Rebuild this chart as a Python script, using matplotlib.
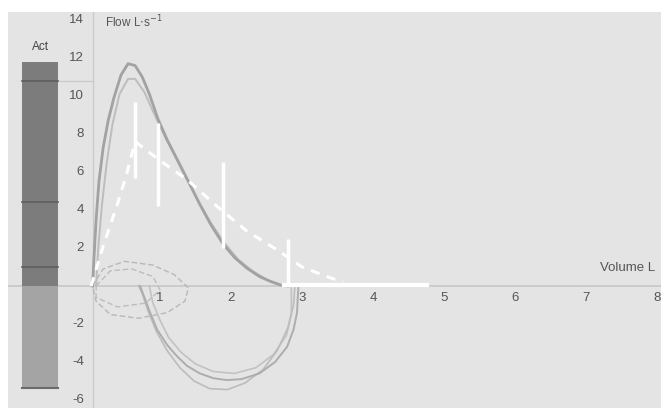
import matplotlib.pyplot as plt

plt.rcParams['font.family'] = ['Liberation Sans Narrow', 'Liberation Sans', 'DejaVu Sans']

# Curva espiratoria principal (volumen L, flujo L/s)
exp1_vol = [0.05, 0.07, 0.10, 0.14, 0.20, 0.27, 0.35, 0.45, 0.55, 0.65, 0.75, 0.85, 0.97, 1.10,
            1.25, 1.40, 1.56, 1.72, 1.89, 2.05, 2.22, 2.40, 2.55, 2.70, 2.80]
exp1_flow = [0.0, 1.5, 3.5, 5.5, 7.3, 8.7, 9.9, 11.1, 11.7, 11.6, 11.0, 10.1, 8.8, 7.7,
             6.6, 5.5, 4.3, 3.2, 2.2, 1.5, 0.95, 0.5, 0.25, 0.05, 0.0]
# Segunda maniobra espiratoria
exp2_vol = [0.10, 0.13, 0.18, 0.25, 0.33, 0.43, 0.55, 0.65, 0.78, 0.90, 1.05, 1.20, 1.38, 1.55,
            1.72, 1.90, 2.10, 2.30, 2.50, 2.70, 2.80]
exp2_flow = [0.0, 2.0, 4.2, 6.5, 8.5, 10.1, 10.9, 10.9, 10.2, 9.2, 8.0, 6.9, 5.6, 4.4,
             3.3, 2.3, 1.4, 0.8, 0.35, 0.05, 0.0]

# Curvas inspiratorias
insp1_vol = [2.95, 2.94, 2.93, 2.88, 2.79, 2.62, 2.40, 2.15, 1.94, 1.75, 1.56, 1.38, 1.24, 1.10,
             0.96, 0.86, 0.78, 0.72]
insp1_flow = [0.0, -0.6, -1.4, -2.3, -3.2, -4.0, -4.6, -4.9, -4.95, -4.85, -4.6, -4.2, -3.7, -3.1,
              -2.3, -1.4, -0.6, 0.0]
insp2_vol = [2.90, 2.88, 2.80, 2.65, 2.45, 2.20, 1.95, 1.70, 1.48, 1.28, 1.10, 0.95, 0.83, 0.75, 0.70]
insp2_flow = [0.0, -1.0, -2.2, -3.4, -4.4, -5.1, -5.45, -5.4, -5.0, -4.3, -3.4, -2.4, -1.3, -0.4, 0.0]
insp3_vol = [2.85, 2.85, 2.78, 2.60, 2.35, 2.05, 1.75, 1.50, 1.30, 1.12, 1.00, 0.90, 0.85]
insp3_flow = [0.0, -1.5, -2.6, -3.6, -4.3, -4.6, -4.5, -4.1, -3.5, -2.7, -1.8, -0.9, 0.0]

# Ciclos de volumen corriente
tid1_vol = [0.05, 0.20, 0.50, 0.90, 1.20, 1.40, 1.35, 1.10, 0.70, 0.30, 0.10, 0.05]
tid1_flow = [0.0, 0.9, 1.3, 1.1, 0.6, -0.1, -0.8, -1.4, -1.7, -1.5, -0.8, 0.0]
tid2_vol = [0.10, 0.30, 0.60, 0.90, 1.00, 0.80, 0.40, 0.10, 0.10]
tid2_flow = [0.0, 0.8, 0.9, 0.5, -0.2, -0.9, -1.1, -0.6, 0.0]

# Curva teórica (predicho) y rangos
pred_vol = [0.03, 0.20, 0.40, 0.53, 0.65, 1.00, 1.38, 1.80, 2.22, 2.65, 3.00, 3.35, 3.58]
pred_flow = [0.0, 2.1, 4.3, 5.9, 7.6, 6.6, 5.6, 4.2, 2.9, 1.9, 1.0, 0.5, 0.2]
rango_vol = [0.65, 0.97, 1.89, 2.80]
rango_min = [5.7, 4.2, 2.0, 0.15]
rango_max = [9.7, 8.6, 6.5, 2.5]
fvc_pred = [2.75, 4.76]

# Barra "Act"
act_top = 11.8
act_bottom = -5.35
act_marks = [10.8, 4.4, 1.0]

xticks = [1, 2, 3, 4, 5, 6, 7, 8]
yticks = [14, 12, 10, 8, 6, 4, 2, -2, -4, -6]

fig = plt.figure(figsize=(6.61, 4.08), dpi=100, facecolor='white')
ax = fig.add_axes([8 / 661, 0, 653 / 661, 396 / 408])
ax.set_facecolor('#e4e4e4')
ax.set_xlim(-1.141, 8.056)
ax.set_ylim(-6.42, 14.42)
for s in ax.spines.values():
    s.set_visible(False)
ax.set_xticks([])
ax.set_yticks([])

# ejes
ax.axhline(0, color='#c6c6c6', lw=1.2, zorder=1)
ax.axvline(0.056, color='#cbcbcb', lw=1.0, zorder=1)

# barra Act
ax.bar(-0.69, act_top, width=0.507, bottom=0, color='#7c7c7c', zorder=2)
ax.bar(-0.69, act_bottom, width=0.507, bottom=0, color='#a4a4a4', zorder=2)
for m in act_marks:
    ax.plot([-0.944, -0.437], [m, m], color='#5f5f5f', lw=1.2, zorder=3)
ax.plot([-0.437, 0.056], [act_marks[0], act_marks[0]], color='#cccccc', lw=1.0, zorder=1)
ax.plot([-0.944, -0.437], [act_bottom, act_bottom], color='#6a6a6a', lw=1.5, zorder=3)
ax.text(-0.69, 12.6, 'Act', ha='center', va='center', fontsize=8.5, color='#444444')

# ciclos de volumen corriente
ax.plot(tid1_vol, tid1_flow, color='#b8b8b8', lw=1.0, ls=(0, (4, 2)), zorder=3)
ax.plot(tid2_vol, tid2_flow, color='#bdbdbd', lw=1.0, ls=(0, (4, 2)), zorder=3)

# inspiración
ax.plot(insp3_vol, insp3_flow, color='#c2c2c2', lw=1.2, zorder=3)
ax.plot(insp2_vol, insp2_flow, color='#bcbcbc', lw=1.2, zorder=3)
ax.plot(insp1_vol, insp1_flow, color='#adadad', lw=1.4, zorder=3)

# espiración
ax.plot(exp2_vol, exp2_flow, color='#bdbdbd', lw=1.4, zorder=4)
ax.plot(exp1_vol, exp1_flow, color='#a2a2a2', lw=2.0, zorder=4)

# predicho
ax.plot(pred_vol, pred_flow, color='white', lw=2.2, ls=(0, (3, 2.5)), zorder=5)
ax.vlines(rango_vol, rango_min, rango_max, color='white', lw=2.5, zorder=5)
ax.plot(fvc_pred, [0.05, 0.05], color='white', lw=3, zorder=5)

# etiquetas
for t in xticks:
    ax.text(t, -0.63, str(t), ha='center', va='center', fontsize=9.5, color='#555555')
for t in yticks:
    ax.text(-0.07, t, str(t), ha='right', va='center', fontsize=9.5, color='#555555')
ax.text(0.225, 13.9, r'Flow L$\cdot$s$^{-1}$', ha='left', va='center', fontsize=8.5, color='#555555')
ax.text(7.97, 0.95, 'Volume L', ha='right', va='center', fontsize=9.5, color='#555555')

fig.savefig('out.png', dpi=100, facecolor='white')
